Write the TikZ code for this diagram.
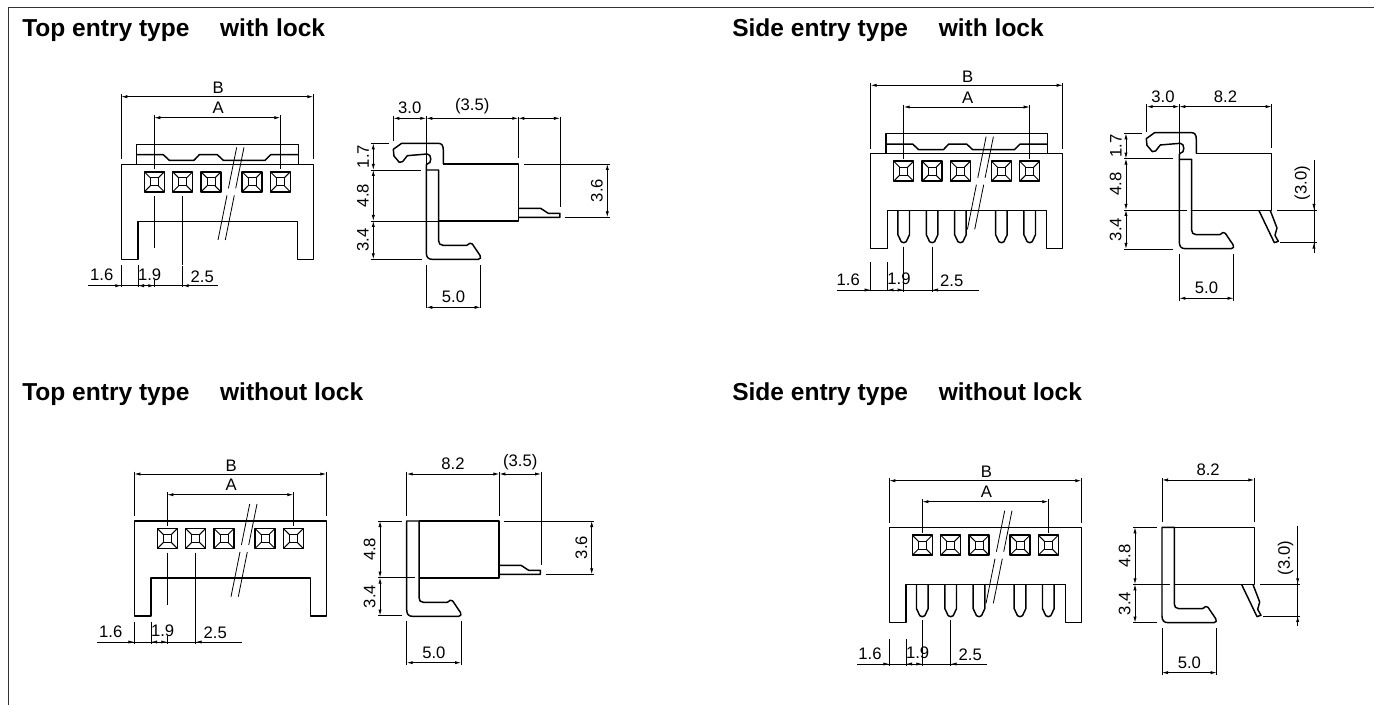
\documentclass[tikz,border=0pt]{standalone}
\usepackage{fontspec}
\setmainfont{Liberation Sans}
\usetikzlibrary{arrows.meta, positioning, calc}

\begin{document}
\begin{tikzpicture}[
        x=0.75pt, y=-0.75pt,
        outline/.style={draw, line width=1.1pt, line join=round},
        cellline/.style={draw, line width=0.75pt},
        extline/.style={draw, line width=0.6pt},
        dimboth/.style={extline, {Latex[length=4.5pt,width=2.4pt]}-{Latex[length=4.5pt,width=2.4pt]}},
        dimend/.style={extline, -{Latex[length=4.5pt,width=2.4pt]}},
        dimtext/.style={font=\fontsize{12.5pt}{14pt}\selectfont, inner sep=0pt},
        heading/.style={font=\fontsize{18.4pt}{22pt}\selectfont\bfseries, inner sep=0pt, anchor=base west},
        zoomed/.style={x=0.25pt, y=-0.25pt},
        % front of the housing, origin at its upper left corner
        pics/housing/.style={code={
            \draw[outline] (0,0) -- (192,0) -- (192,95) -- (176,95) -- (176,57) -- (16.7,57) -- (16.7,95) -- (0,95) -- cycle;
            \foreach \cx in {33,61.4,89.7,130.7,159} {
                \draw[outline] (\cx-10,7.5) rectangle (\cx+10,27.5);
                \draw[cellline] (\cx-4,13.5) rectangle (\cx+4,21.5);
                \draw[cellline] (\cx-10,7.5) -- (\cx-4,13.5) (\cx+10,7.5) -- (\cx+4,13.5)
                    (\cx-10,27.5) -- (\cx-4,21.5) (\cx+10,27.5) -- (\cx+4,21.5);
            }
            % break marks
            \foreach \dx in {0,7.3} {
                \draw[extline] (115.4+\dx,-17) -- (107.1+\dx,24) (105.7+\dx,31) -- (96.7+\dx,75.7);
            }
        }},
        pics/lockbar/.style={code={
            \draw[outline] (15.4,0) -- (15.4,-20) -- (177,-20) -- (177,0);
            \draw[outline] (15.4,-9.6) -- (42,-9.6) -- (48,-4) -- (72.7,-4) -- (78,-9.6) -- (96,-9.6)
                -- (102,-4) -- (143.7,-4) -- (149.4,-9.6) -- (177,-9.6);
        }},
        pics/pinrow/.style={code={
            \foreach \cx in {33,61.4,89.7,130.7,159} {
                \draw[outline] (\cx-5.8,57) -- (\cx-5.8,81) -- (\cx-2.5,88) -- (\cx,89) -- (\cx+2.5,88) -- (\cx+5.8,81) -- (\cx+5.8,57);
                }
        }},
        % A and B above, the four pitches below: yB, yA, base, left end, right end, tick top, x of 1.6
        pics/frontdims/.style n args={7}{code={
            \draw[dimboth] (0,#1) -- (192,#1);
            \node[dimtext] (B) at (97,#1-8.6) {B};
            \draw[dimboth] (33,#2) -- (159,#2);
            \node[dimtext] (A) at (97,#2-9.7) {A};
            \draw[extline] (0,#1-2.3) -- (0,-5) (192,#1-2.3) -- (192,-5);
            \draw[extline] (33,#2-2.3) -- (33,5) (159,#2-2.3) -- (159,5);
            \draw[extline] (0,#6) -- (0,#3+1.5) (16.7,#6) -- (16.7,#3+1.5);
            \draw[extline] (33,#3-6) -- (33,#3+1.5) (61.4,#3-20) -- (61.4,#3+1.5);
            \draw[extline] (#4,#3) -- (#5,#3);
            \draw[dimend] (-8,#3) -- (0,#3);
            \draw[dimend] (24,#3) -- (16.7,#3);
            \draw[dimend] (24,#3) -- (33,#3);
            \draw[dimend] (70,#3) -- (61.4,#3);
            \node[dimtext] (w16) at (#7,#3-10.7) {1.6};
            \node[dimtext] (w19) at (28.3,#3-11.2) {1.9};
            \node[dimtext] (w25) at (81,#3-9) {2.5};
        }},
        % side of the contact, drawn in third-pixel units from the upper left body corner
        pics/contact/.style={code={
            \begin{scope}[zoomed]
                \draw[outline] (0,#1) -- (0,266) .. controls (0,280) and (6,286) .. (18,286) -- (156,286)
                    .. controls (163,286) and (165,280) .. (161,274) -- (138,240)
                    .. controls (133,235) and (128,238) .. (125,242) -- (121,244) -- (50,244)
                    .. controls (41,244) and (37,238) .. (37,230) -- (37,#1) -- cycle;
            \end{scope}
        }},
        pics/lockhook/.style={code={
            \begin{scope}[zoomed]
                \draw[outline] (51,0) -- (51,-42) .. controls (51,-56) and (46,-62) .. (36,-62) -- (-74,-62)
                    -- (-99,-44) -- (-97,-24) -- (-81,-5) -- (-71,-7) -- (-57,-25) -- (3,-30)
                    .. controls (17,-30) and (17,0) .. (3,0) -- (0,3) -- (0,18);
                \draw[outline] (51,0) -- (277,0) -- (277,171) -- (37,171);
            \end{scope}
        }},
        pics/plainbody/.style={code={
            \begin{scope}[zoomed]
                \draw[outline] (37,0) -- (277,0) -- (277,171) -- (37,171);
            \end{scope}
        }},
        pics/flatpin/.style={code={
            \begin{scope}[zoomed]
                \draw[outline] (276,133) -- (343,133) -- (366,148) -- (401,148) -- (401,160) -- (276,160);
            \end{scope}
        }},
        pics/bentpin/.style={code={
            \begin{scope}[zoomed]
                \draw[outline] (239,172) -- (285,268) -- (297,264) -- (287,246) -- (293,224) -- (273,172);
            \end{scope}
        }}
    ]
    \useasboundingbox (0,0) rectangle (1374,705);
    \draw[line width=0.75pt, black!80] (8.5,705) -- (8.5,7.5) -- (1374,7.5);

    % Headings
    \node[heading] (hTL) at (22,37) {Top entry type\hspace{1.25em}with lock};
    \node[heading] (hTR) at (732,37) {Side entry type\hspace{1.25em}with lock};
    \node[heading] (hBL) at (22,401) {Top entry type\hspace{1.25em}without lock};
    \node[heading] (hBR) at (732,401) {Side entry type\hspace{1.25em}without lock};

    % Top entry, with lock: front
    \pic (TLf) at (121.3,164.3) {housing};
    \pic (TLl) at (121.3,164.3) {lockbar};
    \pic (TLd) at (121.3,164.3) {frontdims={-67.6}{-46.6}{121.4}{-33}{96.4}{100.7}{-19.6}};
    \draw[extline] (154.3,196) -- (154.3,248) (182.7,196) -- (182.7,265);

    % Top entry, with lock: side
    \pic (TLc) at (426.3,164) {contact=18};
    \pic (TLh) at (426.3,164) {lockhook};
    \pic (TLp) at (426.3,164) {flatpin};
    \begin{scope}[shift={(426.3,164)}, zoomed]
        \draw[extline] (-99,-144) -- (-99,-68) (0,-144) -- (0,0) (276,-142) -- (276,-17) (401,-142) -- (401,130);
        \draw[dimboth] (-99,-137) -- node[dimtext, above=3pt] (TLs30) {3.0} (0,-137);
        \draw[dimboth] (0,-137) -- node[dimtext, above=3pt] (TLs35) {(3.5)} (276,-137);
        \draw[dimboth] (276,-137) -- (401,-137);
        \draw[extline] (-167,-62) -- (-111,-62) (-167,18) -- (-17,18) (-167,171) -- (37,171) (-167,286) -- (-14,286);
        \draw[dimboth] (-159,-62) -- node[dimtext, rotate=90, left=3pt, anchor=south] (TLs17) {1.7} (-159,18);
        \draw[dimboth] (-159,18) -- node[dimtext, rotate=90, left=3pt, anchor=south] (TLs48) {4.8} (-159,171);
        \draw[dimboth] (-159,171) -- node[dimtext, rotate=90, left=3pt, anchor=south] (TLs34) {3.4} (-159,286);
        \draw[extline] (293,0) -- (551,0) (416,160) -- (551,160);
        \draw[dimboth] (543,0) -- node[dimtext, rotate=90, left=3pt, anchor=south] (TLs36) {3.6} (543,160);
        \draw[extline] (0,303) -- (0,433) (163,303) -- (163,433);
        \draw[dimboth] (0,430) -- node[dimtext, above=3pt] (TLs50) {5.0} (163,430);
    \end{scope}

    % Side entry, with lock: front
    \pic (TRf) at (870.7,153.7) {housing};
    \pic (TRl) at (870.7,153.7) {lockbar};
    \pic (TRn) at (870.7,153.7) {pinrow};
    \pic (TRd) at (870.7,153.7) {frontdims={-68.4}{-46.7}{136.3}{-34}{108.3}{108.6}{-22.4}};
    \draw[extline] (903.7,246.7) -- (903.7,291.8) (932.1,246.7) -- (932.1,291.8);

    % Side entry, with lock: side
    \pic (TRc) at (1179.3,153.3) {contact=18};
    \pic (TRh) at (1179.3,153.3) {lockhook};
    \pic (TRp) at (1179.3,153.3) {bentpin};
    \begin{scope}[shift={(1179.3,153.3)}, zoomed]
        \draw[extline] (-98,-147) -- (-98,-65) (0,-147) -- (0,0) (277,-147) -- (277,-15);
        \draw[dimboth] (-98,-140) -- node[dimtext, above=3pt] (TRs30) {3.0} (0,-140);
        \draw[dimboth] (0,-140) -- node[dimtext, above=3pt] (TRs82) {8.2} (277,-140);
        \draw[extline] (-166,-60) -- (-113,-60) (-166,16) -- (-18,16) (-166,170) -- (22,170) (-166,287) -- (-18,287);
        \draw[dimboth] (-160,-60) -- node[dimtext, rotate=90, left=3pt, anchor=south] (TRs17) {1.7} (-160,16);
        \draw[dimboth] (-160,16) -- node[dimtext, rotate=90, left=3pt, anchor=south] (TRs48) {4.8} (-160,170);
        \draw[dimboth] (-160,170) -- node[dimtext, rotate=90, left=3pt, anchor=south] (TRs34) {3.4} (-160,287);
        \draw[extline] (292,170) -- (412,170) (302,268) -- (412,268);
        \draw[extline] (404,20) -- (404,300);
        \draw[dimend] (404,140) -- (404,170);
        \draw[dimend] (404,298) -- (404,268);
        \node[dimtext, rotate=90] (TRs3) at (369,90) {(3.0)};
        \draw[extline] (0,302) -- (0,442) (163,302) -- (163,442);
        \draw[dimboth] (0,435) -- node[dimtext, above=3pt] (TRs50) {5.0} (163,435);
    \end{scope}

    % Top entry, without lock: front
    \pic (BLf) at (134.3,521) {housing};
    \pic (BLd) at (134.3,521) {frontdims={-47}{-26.3}{121}{-37}{108}{100.7}{-23.6}};
    \draw[extline] (167.3,552.7) -- (167.3,605) (195.7,552.7) -- (195.7,622);

    % Top entry, without lock: side
    \pic (BLc) at (406.7,521) {contact=0};
    \pic (BLb) at (406.7,521) {plainbody};
    \pic (BLp) at (406.7,521) {flatpin};
    \begin{scope}[shift={(406.7,521)}, zoomed]
        \draw[extline] (0,-148) -- (0,-16) (278,-148) -- (278,-16) (403,-148) -- (403,132);
        \draw[dimboth] (0,-141) -- node[dimtext, above=3pt] (BLs82) {8.2} (278,-141);
        \draw[dimboth] (278,-141) -- node[dimtext, above=3pt] (BLs35) {(3.5)} (403,-141);
        \draw[extline] (-85,0) -- (-15,0) (-85,170) -- (25,170) (-85,284) -- (-15,284);
        \draw[dimboth] (-80,0) -- node[dimtext, rotate=90, left=3pt, anchor=south] (BLs48) {4.8} (-80,170);
        \draw[dimboth] (-80,170) -- node[dimtext, rotate=90, left=3pt, anchor=south] (BLs34) {3.4} (-80,284);
        \draw[extline] (293,0) -- (562,0) (417,160) -- (562,160);
        \draw[dimboth] (555,0) -- node[dimtext, rotate=90, left=3pt, anchor=south] (BLs36) {3.6} (555,160);
        \draw[extline] (0,300) -- (0,432) (163,300) -- (163,432);
        \draw[dimboth] (0,425) -- node[dimtext, above=3pt] (BLs50) {5.0} (163,425);
    \end{scope}

    % Side entry, without lock: front
    \pic (BRf) at (889.3,527.7) {housing};
    \pic (BRn) at (889.3,527.7) {pinrow};
    \pic (BRd) at (889.3,527.7) {frontdims={-47}{-26}{136.3}{-32}{98}{111.6}{-19.3}};
    \draw[extline] (922.3,620) -- (922.3,665.5) (950.7,620) -- (950.7,665.5);

    % Side entry, without lock: side
    \pic (BRc) at (1162,527.3) {contact=0};
    \pic (BRb) at (1162,527.3) {plainbody};
    \pic (BRp) at (1162,527.3) {bentpin};
    \begin{scope}[shift={(1162,527.3)}, zoomed]
        \draw[extline] (0,-147) -- (0,-15) (277,-147) -- (277,-15);
        \draw[dimboth] (0,-142) -- node[dimtext, above=3pt] (BRs82) {8.2} (277,-142);
        \draw[extline] (-86,0) -- (-16,0) (-86,171) -- (24,171) (-86,286) -- (-16,286);
        \draw[dimboth] (-81,0) -- node[dimtext, rotate=90, left=3pt, anchor=south] (BRs48) {4.8} (-81,171);
        \draw[dimboth] (-81,171) -- node[dimtext, rotate=90, left=3pt, anchor=south] (BRs34) {3.4} (-81,286);
        \draw[extline] (294,171) -- (414,171) (304,266) -- (414,266);
        \draw[extline] (407,-5) -- (407,295);
        \draw[dimend] (407,141) -- (407,171);
        \draw[dimend] (407,296) -- (407,266);
        \node[dimtext, rotate=90] (BRs3) at (371,93) {(3.0)};
        \draw[extline] (0,303) -- (0,443) (164,303) -- (164,443);
        \draw[dimboth] (0,436) -- node[dimtext, above=3pt] (BRs50) {5.0} (164,436);
    \end{scope}
\end{tikzpicture}
\end{document}
